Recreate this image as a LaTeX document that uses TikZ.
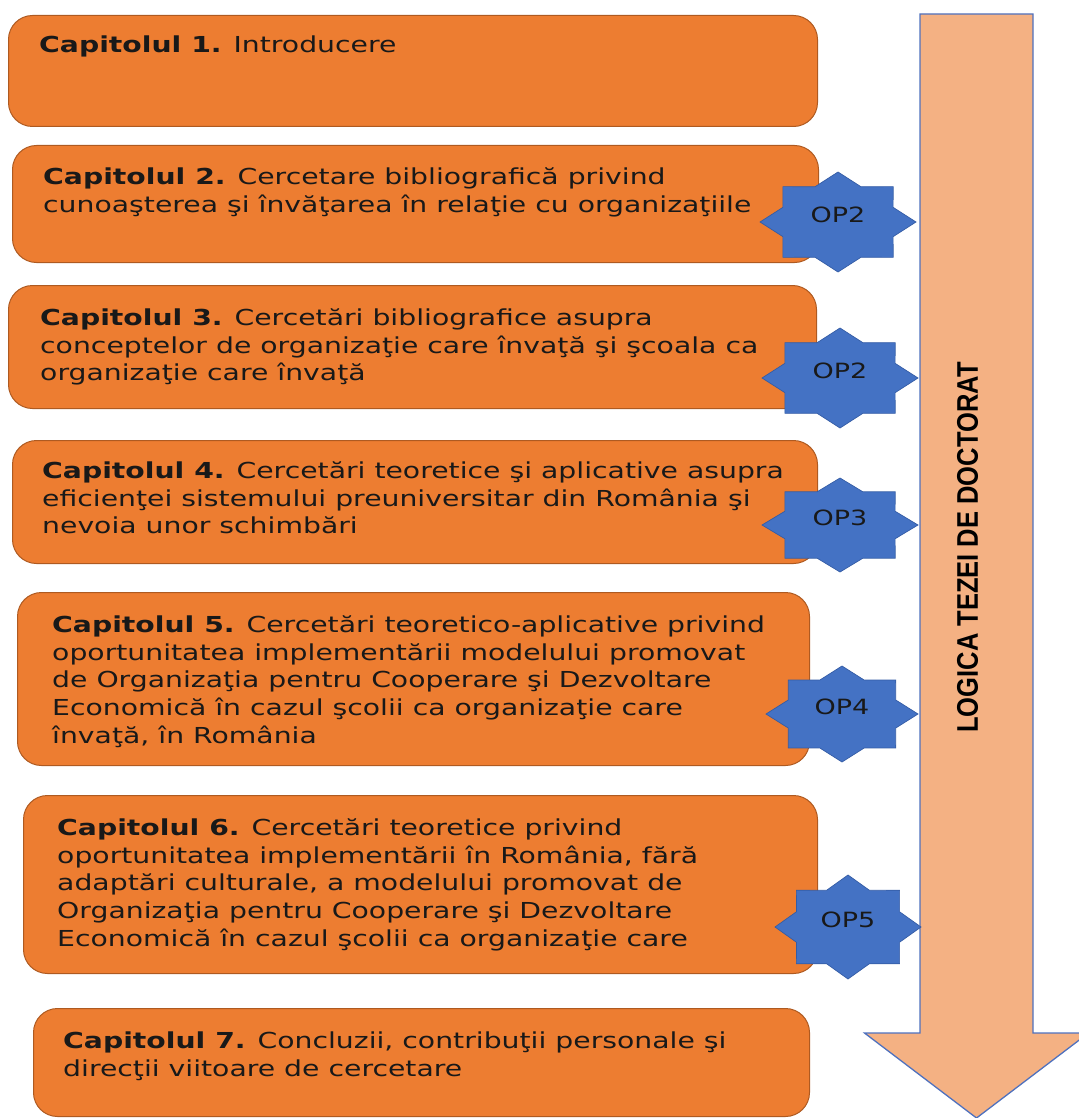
\documentclass[tikz,border=0pt]{standalone}
\usepackage{fontspec}
\setmainfont{DejaVu Sans}
\newfontfamily\boxfont[FakeStretch=1.285]{DejaVu Sans}
\newfontfamily\arrowfont{Liberation Sans}
\definecolor{boxorange}{RGB}{237,125,49}
\definecolor{boxedge}{RGB}{174,90,33}
\definecolor{arrowfill}{RGB}{244,177,131}
\definecolor{arrowedge}{RGB}{79,113,190}
\definecolor{starblue}{RGB}{68,114,196}
\definecolor{staredge}{RGB}{52,92,165}
\definecolor{inktext}{RGB}{25,25,25}
\newcommand{\firstline}{\rule{0pt}{21pt}}
\tikzset{
  chapbox/.style={draw=boxedge, fill=boxorange, line width=1pt, rounded corners=24pt, anchor=north west, inner sep=0pt},
  chaptext/.style={anchor=north west, inner sep=0pt, align=left, text=inktext, font={\boxfont\fontsize{22}{27.8}\selectfont}},
  oplabel/.style={inner sep=0pt, text=inktext, font={\boxfont\fontsize{21}{25}\selectfont}},
  logicarrow/.style={draw=arrowedge, fill=arrowfill, line width=1.3pt, line join=miter},
  starshape/.style={draw=staredge, fill=starblue, line width=0.7pt, line join=miter},
  logictext/.style={rotate=90, inner sep=0pt, text=black, font={\arrowfont\bfseries\fontsize{25.5}{30}\selectfont}}
}
\begin{document}
\begin{tikzpicture}[x=1pt,y=-1pt]
\useasboundingbox (0,0) rectangle (1078,1118);
% chapter boxes
\node[chapbox, minimum width=809pt, minimum height=111pt] (b1) at (8,15) {};
\node[chapbox, minimum width=806pt, minimum height=117pt] (b2) at (12,145) {};
\node[chapbox, minimum width=808pt, minimum height=123pt] (b3) at (8,285) {};
\node[chapbox, minimum width=805pt, minimum height=123pt] (b4) at (12,440) {};
\node[chapbox, minimum width=792pt, minimum height=173pt] (b5) at (17,592) {};
\node[chapbox, minimum width=794pt, minimum height=178pt] (b6) at (23,795) {};
\node[chapbox, minimum width=776pt, minimum height=108pt] (b7) at (33,1008) {};
% chapter texts (node top = first baseline - 21)
\node[chaptext] (t1) at (39,31) {\firstline\textbf{Capitolul 1.} Introducere};
\node[chaptext] (t2) at (43,163) {\firstline\textbf{Capitolul 2.} Cercetare bibliografică privind\\
cunoaşterea şi învăţarea în relaţie cu organizaţiile};
\node[chaptext] (t3) at (40,304) {\firstline\textbf{Capitolul 3.} Cercetări bibliografice asupra\\
conceptelor de organizaţie care învaţă şi şcoala ca\\
organizaţie care învaţă};
\node[chaptext] (t4) at (42,457) {\firstline\textbf{Capitolul 4.} Cercetări teoretice şi aplicative asupra\\
eficienţei sistemului preuniversitar din România şi\\
nevoia unor schimbări};
\node[chaptext] (t5) at (52,611) {\firstline\textbf{Capitolul 5.} Cercetări teoretico-aplicative privind\\
oportunitatea implementării modelului promovat\\
de Organizaţia pentru Cooperare şi Dezvoltare\\
Economică în cazul şcolii ca organizaţie care\\
învaţă, în România};
\node[chaptext] (t6) at (57,814) {\firstline\textbf{Capitolul 6.} Cercetări teoretice privind\\
oportunitatea implementării în România, fără\\
adaptări culturale, a modelului promovat de\\
Organizaţia pentru Cooperare şi Dezvoltare\\
Economică în cazul şcolii ca organizaţie care};
\node[chaptext] (t7) at (63,1027) {\firstline\textbf{Capitolul 7.} Concluzii, contribuţii personale şi\\
direcţii viitoare de cercetare};
% big arrow
\draw[logicarrow] (920,14) -- (1033,14) -- (1033,1033) -- (1088.5,1033) -- (976.5,1118) -- (864.5,1033) -- (920,1033) -- cycle;
\node[logictext] (logic) at (967.5,547.5) {\scalebox{1}[1.17]{LOGICA TEZEI DE DOCTORAT}};
% stars
\foreach \cx/\cy/\rx/\ry/\lab/\nm in {838/222/78/50/OP2/s1, 840/378/78/50/OP2/s2, 840/525/78/47/OP3/s3, 842/714/76/48/OP4/s4, 848/927/73/52/OP5/s5}{
  \draw[starshape] plot[samples at={0,...,15}, variable=\k] ({\cx+\rx*(1-0.235*mod(\k,2))*cos(\k*22.5)},{\cy+\ry*(1-0.235*mod(\k,2))*sin(\k*22.5)}) -- cycle;
  \node[oplabel] (\nm) at (\cx,\cy-7) {\lab};
}
\end{tikzpicture}
\end{document}
